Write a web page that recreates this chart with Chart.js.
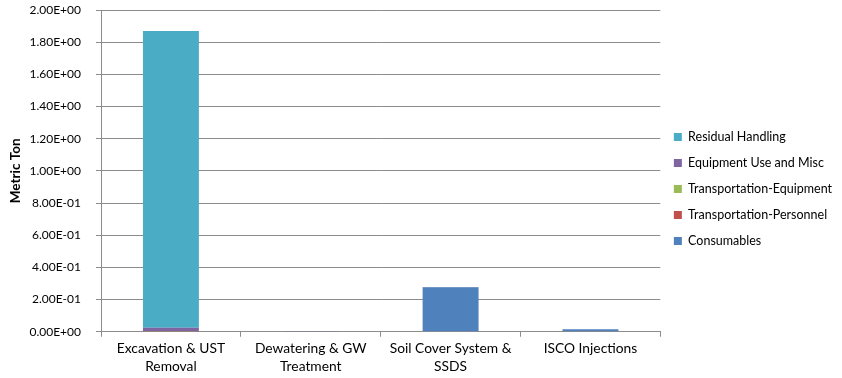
<!DOCTYPE html>
<html>
<head>
<meta charset="utf-8">
<script src="https://cdn.jsdelivr.net/npm/chart.js@4"></script>
<style>
    html, body { margin: 0; padding: 0; background: #fff; }
    #wrap { width: 842px; height: 378px; }
</style>
</head>
<body>
<div id="wrap"><canvas id="chart" width="842" height="378"></canvas></div>
<script>
// Categories (x axis, wrapped onto two lines)
const categories = [
    ['Excavation & UST', 'Removal'],
    ['Dewatering & GW', 'Treatment'],
    ['Soil Cover System &', 'SSDS'],
    ['ISCO Injections']
];

// Series values in metric tons (stacked bottom to top)
const consumables = [0.000, 0.003, 0.276, 0.015];
const transportPersonnel = [0.001, 0.000, 0.001, 0.001];
const transportEquipment = [0.002, 0.000, 0.000, 0.000];
const equipmentUse = [0.022, 0.001, 0.001, 0.000];
const residualHandling = [1.845, 0.000, 0.000, 0.000];

const yTicks = [0, 0.2, 0.4, 0.6, 0.8, 1.0, 1.2, 1.4, 1.6, 1.8, 2.0];

// Excel style scientific label: 2.00E+00
function sci(v) {
    if (v === 0) return '0.00E+00';
    let exp = Math.floor(Math.log10(Math.abs(v)) + 1e-9);
    let mant = v / Math.pow(10, exp);
    let sign = exp < 0 ? '-' : '+';
    let e = String(Math.abs(exp)).padStart(2, '0');
    return mant.toFixed(2) + 'E' + sign + e;
}

const font = { family: 'Lato', size: 12 };
const gridColor = '#8c8c8c';

const ctx = document.getElementById('chart').getContext('2d');

new Chart(ctx, {
    type: 'bar',
    data: {
        labels: categories,
        datasets: [
            { label: 'Consumables', data: consumables, backgroundColor: '#4f81bd' },
            { label: 'Transportation-Personnel', data: transportPersonnel, backgroundColor: '#c0504d' },
            { label: 'Transportation-Equipment', data: transportEquipment, backgroundColor: '#9bbb59' },
            { label: 'Equipment Use and Misc', data: equipmentUse, backgroundColor: '#8064a2' },
            { label: 'Residual Handling', data: residualHandling, backgroundColor: '#4bacc6' }
        ]
    },
    options: {
        responsive: false,
        animation: false,
        categoryPercentage: 1,
        barPercentage: 0.4,
        layout: {
            padding: { top: 0, left: 5, right: 0, bottom: 0 }
        },
        plugins: {
            tooltip: { enabled: false },
            legend: {
                position: 'right',
                reverse: true,
                labels: {
                    color: '#000',
                    font: { family: 'Lato', size: 12.5 },
                    boxWidth: 8,
                    boxHeight: 8,
                    padding: 13.5
                }
            }
        },
        scales: {
            x: {
                stacked: true,
                border: { color: gridColor },
                grid: {
                    offset: true,
                    drawOnChartArea: false,
                    drawTicks: true,
                    tickLength: 5,
                    color: gridColor
                },
                ticks: {
                    color: '#000',
                    font: { family: 'Lato', size: 13.8, lineHeight: 1.35 },
                    maxRotation: 0,
                    padding: 2
                }
            },
            y: {
                stacked: true,
                min: 0,
                max: 2,
                afterBuildTicks: axis => {
                    axis.ticks = yTicks.map(v => ({ value: v }));
                },
                afterFit: axis => {
                    axis.width = 96;
                    axis.paddingTop = 10;
                },
                border: { color: gridColor },
                grid: {
                    color: gridColor,
                    tickLength: 5
                },
                ticks: {
                    color: '#000',
                    font: font,
                    padding: 15,
                    callback: v => sci(v)
                },
                title: {
                    display: true,
                    text: 'Metric Ton',
                    color: '#000',
                    font: { family: 'Lato', size: 13.5, weight: 'bold' },
                    padding: 3
                }
            }
        }
    }
});
</script>
</body>
</html>
